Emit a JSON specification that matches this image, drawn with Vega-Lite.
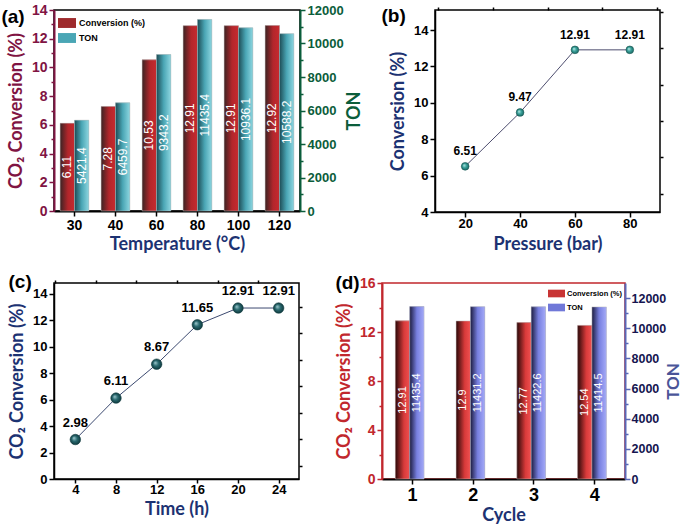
{
 "$schema": "https://vega.github.io/schema/vega-lite/v6.json",
 "background": "white",
 "padding": {"left": 0, "top": 2, "right": 0, "bottom": 0},
 "bounds": "full",
 "spacing": 18,
 "resolve": {"scale": {"color": "independent"}, "legend": {"color": "independent"}},
 "config": {
  "font": "Liberation Sans",
  "view": {"stroke": "black", "strokeWidth": 1.5},
  "axis": {"labelFont": "Liberation Sans", "labelFontWeight": "bold", "labelColor": "black", "titleFont": "Lato", "titleFontWeight": "bold", "titleFontSize": 18, "grid": false, "tickSize": 5, "domainWidth": 1.5, "tickWidth": 1.5, "labelPadding": 2, "domainColor": "black", "tickColor": "black", "labelFlush": false, "labelOverlap": false, "format": "d"},
  "title": {"font": "Liberation Sans", "fontSize": 19, "fontWeight": "bold", "anchor": "start", "frame": "bounds", "color": "black"},
  "legend": {"labelFont": "Liberation Sans", "labelFontWeight": "bold", "labelColor": "black", "padding": 0, "rowPadding": 1, "symbolStrokeWidth": 0, "symbolOpacity": 1}
 },
 "datasets": {
  "temp": [
   {"temp": 30, "series": "Conversion (%)", "value": 6.11}, {"temp": 30, "series": "TON", "value": 5421.4},
   {"temp": 40, "series": "Conversion (%)", "value": 7.28}, {"temp": 40, "series": "TON", "value": 6459.7},
   {"temp": 60, "series": "Conversion (%)", "value": 10.53}, {"temp": 60, "series": "TON", "value": 9343.2},
   {"temp": 80, "series": "Conversion (%)", "value": 12.91}, {"temp": 80, "series": "TON", "value": 11435.4},
   {"temp": 100, "series": "Conversion (%)", "value": 12.91}, {"temp": 100, "series": "TON", "value": 10936.1},
   {"temp": 120, "series": "Conversion (%)", "value": 12.92}, {"temp": 120, "series": "TON", "value": 10588.2}
  ],
  "pressure": [
   {"pressure": 20, "conversion": 6.51}, {"pressure": 40, "conversion": 9.47},
   {"pressure": 60, "conversion": 12.91}, {"pressure": 80, "conversion": 12.91}
  ],
  "time": [
   {"time": 4, "conversion": 2.98}, {"time": 8, "conversion": 6.11}, {"time": 12, "conversion": 8.67},
   {"time": 16, "conversion": 11.65}, {"time": 20, "conversion": 12.91}, {"time": 24, "conversion": 12.91}
  ],
  "cycle": [
   {"cycle": 1, "series": "Conversion (%)", "value": 12.91}, {"cycle": 1, "series": "TON", "value": 11435.4},
   {"cycle": 2, "series": "Conversion (%)", "value": 12.9}, {"cycle": 2, "series": "TON", "value": 11431.2},
   {"cycle": 3, "series": "Conversion (%)", "value": 12.77}, {"cycle": 3, "series": "TON", "value": 11422.6},
   {"cycle": 4, "series": "Conversion (%)", "value": 12.54}, {"cycle": 4, "series": "TON", "value": 11414.5}
  ]
 },
 "vconcat": [
  {
   "spacing": 135,
   "bounds": "flush",
   "resolve": {"scale": {"color": "independent"}, "legend": {"color": "independent"}},
   "hconcat": [
    {
     "width": 246, "height": 201,
     "title": {"text": "(a)", "offset": -24, "dx": -6},
     "data": {"name": "temp"},
     "encoding": {
      "x": {"field": "temp", "type": "ordinal", "scale": {"paddingInner": 0.3, "paddingOuter": 0.15},
            "axis": {"title": "Temperature (°C)", "labelAngle": 0, "domainWidth": 2, "labelFontSize": 14, "titleColor": "#1c3272", "titlePadding": 3}},
      "xOffset": {"field": "series", "type": "nominal", "sort": ["Conversion (%)", "TON"], "scale": {"paddingInner": 0}}
     },
     "layer": [
      {"transform": [{"filter": "datum.series == 'Conversion (%)'"}],
       "mark": {"type": "bar"},
       "encoding": {"y": {"field": "value", "type": "quantitative", "scale": {"domain": [0, 14], "nice": false},
         "axis": {"orient": "left", "title": "CO₂ Conversion (%)", "values": [0, 2, 4, 6, 8, 10, 12, 14], "domainColor": "#801443", "tickColor": "#801443", "labelColor": "#801443", "titleColor": "#801443", "domainWidth": 2, "labelFontSize": 14, "titlePadding": 6}},
         "color": {"field": "series", "type": "nominal", "scale": {"domain": ["Conversion (%)", "TON"], "range": ["#9e2a2c", "#4aa6b5"]},
           "legend": {"title": null, "orient": "top-left", "offset": 4, "labelFontSize": 9, "symbolType": "M-1,-0.55H1V0.55H-1Z", "symbolSize": 324, "labelOffset": 3}}}},
      {"transform": [{"filter": "datum.series == 'Conversion (%)'"}],
       "mark": {"type": "bar", "stroke": "#bdbdbd", "strokeWidth": 0.5,
                "fill": {"gradient": "linear", "x1": 0, "y1": 0, "x2": 1, "y2": 0, "stops": [{"offset": 0, "color": "#3b2424"}, {"offset": 0.55, "color": "#b3262b"}, {"offset": 1, "color": "#c62a2f"}]}},
       "encoding": {"y": {"field": "value", "type": "quantitative", "scale": {"domain": [0, 14], "nice": false}, "axis": null}}},
      {"transform": [{"filter": "datum.series == 'Conversion (%)'"}],
       "mark": {"type": "text", "angle": 270, "fontSize": 12, "align": "center", "baseline": "middle", "color": "white"},
       "encoding": {"y": {"field": "value", "type": "quantitative", "scale": {"domain": [0, 28], "nice": false},
         "axis": {"orient": "left", "values": [2, 6, 10, 14, 18, 22, 26], "labels": false, "domain": false, "tickSize": 3, "tickColor": "#801443", "title": null}},
         "text": {"field": "value", "type": "nominal"}}},
      {"transform": [{"filter": "datum.series == 'TON'"}],
       "mark": {"type": "bar"},
       "encoding": {"y": {"field": "value", "type": "quantitative", "scale": {"domain": [0, 12000], "nice": false},
         "axis": {"orient": "right", "title": "TON", "titleAngle": 270, "titleBaseline": "top", "values": [0, 2000, 4000, 6000, 8000, 10000, 12000], "domainColor": "#0b5d3b", "tickColor": "#0b5d3b", "labelColor": "#0b5d3b", "titleColor": "#0b5d3b", "domainWidth": 2, "labelFontSize": 13, "titlePadding": 2}},
         "color": {"field": "series", "type": "nominal", "scale": {"domain": ["Conversion (%)", "TON"], "range": ["#9e2a2c", "#4aa6b5"]},
           "legend": {"title": null, "orient": "top-left", "offset": 4, "labelFontSize": 9, "symbolType": "M-1,-0.55H1V0.55H-1Z", "symbolSize": 324, "labelOffset": 3}}}},
      {"transform": [{"filter": "datum.series == 'TON'"}],
       "mark": {"type": "bar", "stroke": "#bdbdbd", "strokeWidth": 0.5,
                "fill": {"gradient": "linear", "x1": 0, "y1": 0, "x2": 1, "y2": 0, "stops": [{"offset": 0, "color": "#1d4c55"}, {"offset": 0.5, "color": "#4aa6b5"}, {"offset": 1, "color": "#8dd6e0"}]}},
       "encoding": {"y": {"field": "value", "type": "quantitative", "scale": {"domain": [0, 12000], "nice": false}, "axis": null}}},
      {"transform": [{"filter": "datum.series == 'TON'"}],
       "mark": {"type": "text", "angle": 270, "fontSize": 12, "align": "center", "baseline": "middle", "color": "white"},
       "encoding": {"y": {"field": "value", "type": "quantitative", "scale": {"domain": [0, 24000], "nice": false},
         "axis": {"orient": "right", "values": [2000, 6000, 10000, 14000, 18000, 22000], "labels": false, "domain": false, "tickSize": 3, "tickColor": "#0b5d3b", "title": null}},
         "text": {"field": "value", "type": "nominal"}}}
     ],
     "resolve": {"scale": {"y": "independent"}}
    },
    {
     "width": 225, "height": 202,
     "title": {"text": "(b)", "offset": -20, "dx": -8},
     "data": {"name": "pressure"},
     "layer": [
      {
       "encoding": {
        "x": {"field": "pressure", "type": "quantitative", "scale": {"domain": [9, 91], "nice": false, "zero": false},
              "axis": {"title": "Pressure (bar)", "values": [20, 40, 60, 80], "labelFontSize": 13, "titleColor": "#1c3272", "titlePadding": 5, "labelPadding": 0}},
        "y": {"field": "conversion", "type": "quantitative", "scale": {"domain": [4, 15.1], "nice": false, "zero": false},
              "axis": {"title": "Conversion (%)", "values": [4, 6, 8, 10, 12, 14], "labelFontSize": 13, "titleColor": "#1c3272", "titlePadding": 6}}
       },
       "layer": [
        {"mark": {"type": "line", "color": "#4d4d6e", "strokeWidth": 1}},
        {"mark": {"type": "point", "filled": true, "opacity": 1, "size": 60, "stroke": "#1c5a56", "strokeWidth": 0.6,
                  "fill": {"gradient": "radial", "x1": 0.35, "y1": 0.35, "r1": 0, "x2": 0.5, "y2": 0.5, "r2": 0.5, "stops": [{"offset": 0, "color": "#c8f0ec"}, {"offset": 0.5, "color": "#3aa39c"}, {"offset": 1, "color": "#1c6a66"}]}}}
       ]
      },
      {
       "mark": {"type": "text", "dy": -15, "fontSize": 12, "fontWeight": "bold", "color": "black"},
       "encoding": {
        "x": {"field": "pressure", "type": "quantitative", "scale": {"domain": [9, 91], "nice": false, "zero": false},
              "axis": {"values": [10, 30, 50, 70, 90], "labels": false, "domain": false, "tickSize": 3, "title": null}},
        "y": {"field": "conversion", "type": "quantitative", "scale": {"domain": [4, 15.1], "nice": false, "zero": false},
              "axis": {"values": [5, 7, 9, 11, 13, 15], "labels": false, "domain": false, "tickSize": 3, "title": null}},
        "text": {"field": "conversion", "type": "nominal"}
       }
      }
     ],
     "resolve": {"scale": {"x": "independent", "y": "independent"}}
    }
   ]
  },
  {
   "spacing": 83,
   "bounds": "flush",
   "resolve": {"scale": {"color": "independent"}, "legend": {"color": "independent"}},
   "hconcat": [
    {
     "width": 245, "height": 196,
     "title": {"text": "(c)", "offset": -13, "dx": 0},
     "data": {"name": "time"},
     "layer": [
      {
       "encoding": {
        "x": {"field": "time", "type": "quantitative", "scale": {"domain": [1.9, 26], "nice": false, "zero": false},
              "axis": {"title": "Time (h)", "values": [4, 8, 12, 16, 20, 24], "labelFontSize": 13, "titleColor": "#1c3272", "titlePadding": 4, "labelPadding": 0, "tickSize": 4}},
        "y": {"field": "conversion", "type": "quantitative", "scale": {"domain": [0, 14.8], "nice": false},
              "axis": {"title": "CO₂ Conversion (%)", "values": [0, 2, 4, 6, 8, 10, 12, 14], "labelFontSize": 13, "titleColor": "#1c3272", "titlePadding": 6}}
       },
       "layer": [
        {"mark": {"type": "line", "color": "#3c4a70", "strokeWidth": 1}},
        {"mark": {"type": "point", "filled": true, "opacity": 1, "size": 110, "stroke": "#0f3a3e", "strokeWidth": 0.6,
                  "fill": {"gradient": "radial", "x1": 0.35, "y1": 0.35, "r1": 0, "x2": 0.5, "y2": 0.5, "r2": 0.5, "stops": [{"offset": 0, "color": "#a8d0d4"}, {"offset": 0.5, "color": "#2a6a70"}, {"offset": 1, "color": "#0f3a3e"}]}}}
       ]
      },
      {
       "mark": {"type": "text", "dy": -17, "fontSize": 13, "fontWeight": "bold", "color": "black"},
       "encoding": {
        "x": {"field": "time", "type": "quantitative", "scale": {"domain": [1.9, 26], "nice": false, "zero": false},
              "axis": {"values": [2, 6, 10, 14, 18, 22], "labels": false, "domain": false, "tickSize": 3, "title": null}},
        "y": {"field": "conversion", "type": "quantitative", "scale": {"domain": [0, 14.8], "nice": false},
              "axis": {"values": [1, 3, 5, 7, 9, 11, 13], "labels": false, "domain": false, "tickSize": 3, "title": null}},
        "text": {"field": "conversion", "type": "nominal"}
       }
      }
     ],
     "resolve": {"scale": {"x": "independent", "y": "independent"}}
    },
    {
     "width": 243, "height": 196,
     "title": {"text": "(d)", "offset": -17},
     "view": {"stroke": "#c1272d", "strokeWidth": 1.5},
     "data": {"name": "cycle"},
     "encoding": {
      "x": {"field": "cycle", "type": "ordinal", "scale": {"paddingInner": 0.44, "paddingOuter": 0.22},
            "axis": {"title": "Cycle", "labelAngle": 0, "domainWidth": 2, "labelFontSize": 18, "titleColor": "#1c3272", "titlePadding": 2}},
      "xOffset": {"field": "series", "type": "nominal", "sort": ["Conversion (%)", "TON"], "scale": {"paddingInner": 0}}
     },
     "layer": [
      {"transform": [{"filter": "datum.series == 'Conversion (%)'"}],
       "mark": {"type": "bar"},
       "encoding": {"y": {"field": "value", "type": "quantitative", "scale": {"domain": [0, 16], "nice": false},
         "axis": {"orient": "left", "title": "CO₂ Conversion (%)", "values": [0, 4, 8, 12, 16], "domainColor": "#c1272d", "tickColor": "#c1272d", "labelColor": "#c1272d", "titleColor": "#c1272d", "domainWidth": 2, "labelFontSize": 14, "titlePadding": 6}},
         "color": {"field": "series", "type": "nominal", "scale": {"domain": ["Conversion (%)", "TON"], "range": ["#c83434", "#7078d8"]},
           "legend": {"title": null, "orient": "top-right", "offset": 2, "labelFontSize": 7.5, "symbolType": "M-1,-0.45H1V0.45H-1Z", "symbolSize": 289, "labelOffset": 2}}}},
      {"transform": [{"filter": "datum.series == 'Conversion (%)'"}],
       "mark": {"type": "bar", "stroke": "#bdbdbd", "strokeWidth": 0.5,
                "fill": {"gradient": "linear", "x1": 0, "y1": 0, "x2": 1, "y2": 0, "stops": [{"offset": 0, "color": "#2a0808"}, {"offset": 0.6, "color": "#d83a3a"}, {"offset": 1, "color": "#f05050"}]}},
       "encoding": {"y": {"field": "value", "type": "quantitative", "scale": {"domain": [0, 16], "nice": false}, "axis": null}}},
      {"transform": [{"filter": "datum.series == 'Conversion (%)'"}],
       "mark": {"type": "text", "angle": 270, "fontSize": 11, "align": "center", "baseline": "middle", "color": "white"},
       "encoding": {"y": {"field": "value", "type": "quantitative", "scale": {"domain": [0, 32], "nice": false},
         "axis": {"orient": "left", "values": [4, 12, 20, 28], "labels": false, "domain": false, "tickSize": 3, "tickColor": "#c1272d", "title": null}},
         "text": {"field": "value", "type": "nominal"}}},
      {"transform": [{"filter": "datum.series == 'TON'"}],
       "mark": {"type": "bar"},
       "encoding": {"y": {"field": "value", "type": "quantitative", "scale": {"domain": [0, 13000], "nice": false},
         "axis": {"orient": "right", "title": "TON", "titleAngle": 270, "titleBaseline": "top", "titleFontSize": 17, "values": [0, 2000, 4000, 6000, 8000, 10000, 12000], "domainColor": "#5868b8", "tickColor": "#5868b8", "labelColor": "#151550", "titleColor": "#4a5598", "domainWidth": 2, "labelFontSize": 12.5, "labelPadding": 1, "titlePadding": 0}},
         "color": {"field": "series", "type": "nominal", "scale": {"domain": ["Conversion (%)", "TON"], "range": ["#c83434", "#7078d8"]},
           "legend": {"title": null, "orient": "top-right", "offset": 2, "labelFontSize": 7.5, "symbolType": "M-1,-0.45H1V0.45H-1Z", "symbolSize": 289, "labelOffset": 2}}}},
      {"transform": [{"filter": "datum.series == 'TON'"}],
       "mark": {"type": "bar", "stroke": "#bdbdbd", "strokeWidth": 0.5,
                "fill": {"gradient": "linear", "x1": 0, "y1": 0, "x2": 1, "y2": 0, "stops": [{"offset": 0, "color": "#1c1c40"}, {"offset": 0.5, "color": "#7880e0"}, {"offset": 1, "color": "#a4aaf8"}]}},
       "encoding": {"y": {"field": "value", "type": "quantitative", "scale": {"domain": [0, 13000], "nice": false}, "axis": null}}},
      {"transform": [{"filter": "datum.series == 'TON'"}],
       "mark": {"type": "text", "angle": 270, "fontSize": 11, "align": "center", "baseline": "middle", "color": "white"},
       "encoding": {"y": {"field": "value", "type": "quantitative", "scale": {"domain": [0, 26000], "nice": false},
         "axis": {"orient": "right", "values": [2000, 6000, 10000, 14000, 18000, 22000], "labels": false, "domain": false, "tickSize": 3, "tickColor": "#5868b8", "title": null}},
         "text": {"field": "value", "type": "nominal"}}}
     ],
     "resolve": {"scale": {"y": "independent"}}
    }
   ]
  }
 ]
}
